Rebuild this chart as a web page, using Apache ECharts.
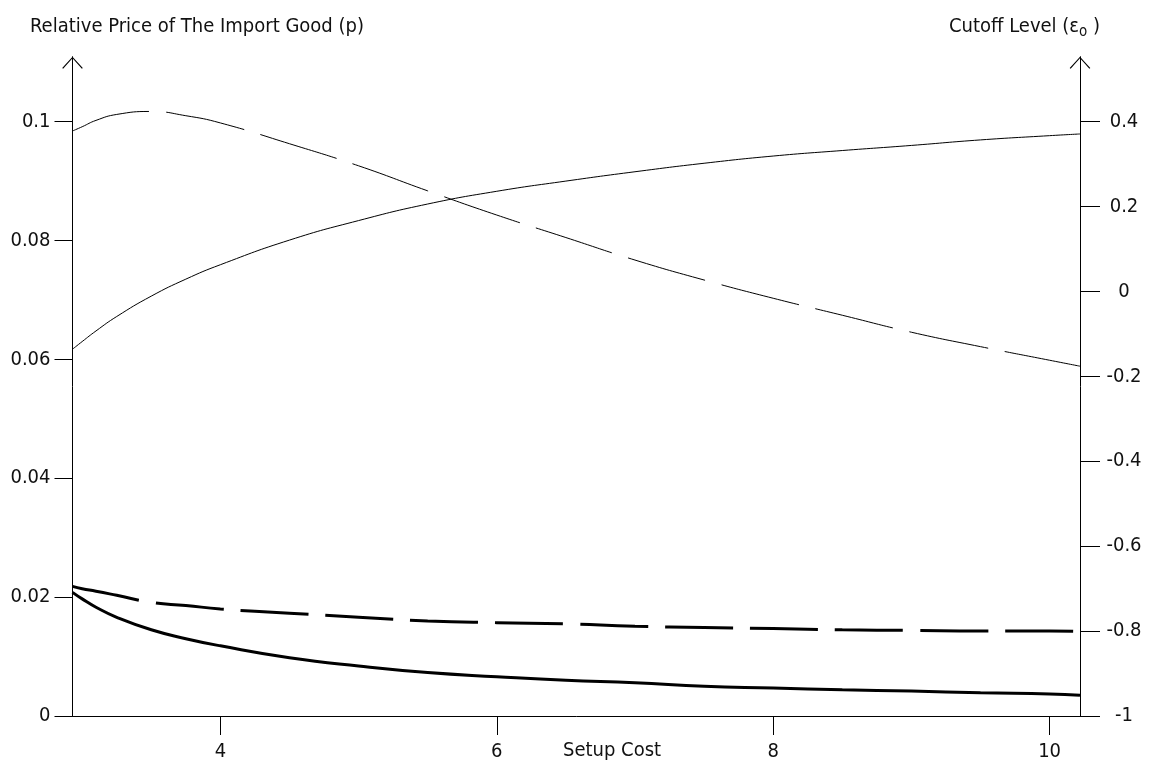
<!DOCTYPE html>
<html>
<head>
<meta charset="utf-8">
<script src="https://cdn.jsdelivr.net/npm/echarts@6/dist/echarts.min.js"></script>
<style>html,body{margin:0;padding:0;background:#fff;}#c{width:1153px;height:768px;}</style>
</head>
<body>
<div id="c"></div>
<script>
// Setup cost (x)
const setupCost = [2.93, 3.0, 3.1, 3.25, 3.5, 3.75, 4.0, 4.5, 5.0, 5.5, 6.0, 6.5, 7.0, 7.5, 8.0, 8.5, 9.0, 9.5, 10.0, 10.22];
// Cutoff level (right axis)
const cutoffDashed = [0.378, 0.388, 0.403, 0.417, 0.424, 0.414, 0.397, 0.348, 0.296, 0.237, 0.180, 0.127, 0.074, 0.027, -0.016, -0.056, -0.096, -0.130, -0.162, -0.176];
const cutoffSolid = [-0.136, -0.118, -0.093, -0.059, -0.011, 0.029, 0.063, 0.121, 0.167, 0.206, 0.236, 0.260, 0.282, 0.302, 0.319, 0.332, 0.344, 0.357, 0.367, 0.371];
// Relative price (left axis)
const priceDashed = [0.0218, 0.0214, 0.0210, 0.0203, 0.0191, 0.0186, 0.0180, 0.0173, 0.0166, 0.0160, 0.0157, 0.0155, 0.0151, 0.0149, 0.0147, 0.0145, 0.0144, 0.0143, 0.0143, 0.0142];
const priceSolid = [0.0208, 0.0197, 0.0183, 0.0166, 0.0145, 0.0130, 0.0118, 0.0098, 0.0084, 0.0073, 0.0066, 0.0060, 0.0056, 0.0050, 0.0047, 0.0044, 0.0042, 0.0039, 0.0037, 0.0035];
// Tick labels
const xTicks = [4, 6, 8, 10];
const leftTicks = [0, 0.02, 0.04, 0.06, 0.08, 0.1];
const rightTicks = [-1, -0.8, -0.6, -0.4, -0.2, 0, 0.2, 0.4];

const FONT = "'Liberation Sans Narrow', 'Arial Narrow', 'DejaVu Sans Condensed', sans-serif";
const TXT = '#111';
const arrow = 'path://M0,12 L11,0 L22,12 L21,12.8 L11,1.6 L1,12.8 Z';

function pairs(xs, ys) { return xs.map((x, i) => [x, ys[i]]); }

const chart = echarts.init(document.getElementById('c'), null, {renderer: 'canvas'});
chart.setOption({
  animation: false,
  backgroundColor: '#fff',
  textStyle: {fontFamily: FONT},
  title: [
    {text: 'Relative Price of The Import Good (p)', left: 25, top: 12,
     textStyle: {fontFamily: FONT, fontSize: 20, fontWeight: 'normal', color: TXT}},
    {text: '{a|Cutoff Level (ε}{s|o}{a| )}', left: 944, top: 8,
     textStyle: {fontFamily: FONT, fontSize: 20, fontWeight: 'normal', color: TXT,
       rich: {a: {fontFamily: FONT, fontSize: 20, color: TXT},
              s: {fontFamily: FONT, fontSize: 15, color: TXT, verticalAlign: 'bottom', padding: [12, 0, 0, 0]}}}},
    {text: 'Setup Cost', left: 558, top: 736,
     textStyle: {fontFamily: FONT, fontSize: 20, fontWeight: 'normal', color: TXT}}
  ],
  grid: {left: 72.5, right: 73, top: 56.7, bottom: 52, containLabel: false, outerBoundsMode: 'none'},
  xAxis: {
    type: 'value', min: 2.93, max: 10.22,
    axisLine: {lineStyle: {color: '#000', width: 1}},
    axisTick: {length: 19, lineStyle: {color: '#000'}, customValues: xTicks},
    axisLabel: {customValues: xTicks, margin: 26, fontFamily: FONT, fontSize: 20, color: TXT},
    splitLine: {show: false}
  },
  yAxis: [
    {
      type: 'value', position: 'left', min: 0, max: 0.1109,
      axisLine: {show: true, lineStyle: {color: '#000', width: 1}, symbol: ['none', arrow], symbolSize: [22, 12], symbolOffset: [0, -6]},
      axisTick: {show: true, length: 18, lineStyle: {color: '#000'}, customValues: leftTicks},
      axisLabel: {customValues: leftTicks, margin: 22, fontFamily: FONT, fontSize: 20, color: TXT},
      splitLine: {show: false}
    },
    {
      type: 'value', position: 'right', min: -1, max: 0.553,
      axisLine: {show: true, lineStyle: {color: '#000', width: 1}, symbol: ['none', arrow], symbolSize: [22, 12], symbolOffset: [0, -6]},
      axisTick: {show: true, length: 20, lineStyle: {color: '#000'}, customValues: rightTicks},
      axisLabel: {customValues: rightTicks, margin: 44, align: 'center', fontFamily: FONT, fontSize: 20, color: TXT},
      splitLine: {show: false}
    }
  ],
  series: [
    {type: 'line', yAxisIndex: 1, data: pairs(setupCost, cutoffDashed), smooth: true, showSymbol: false,
     lineStyle: {color: '#000', width: 1, type: [80, 17]}},
    {type: 'line', yAxisIndex: 1, data: pairs(setupCost, cutoffSolid), smooth: true, showSymbol: false,
     lineStyle: {color: '#000', width: 1}},
    {type: 'line', yAxisIndex: 0, data: pairs(setupCost, priceDashed), smooth: true, showSymbol: false,
     lineStyle: {color: '#000', width: 3, type: [68, 17]}},
    {type: 'line', yAxisIndex: 0, data: pairs(setupCost, priceSolid), smooth: true, showSymbol: false,
     lineStyle: {color: '#000', width: 3}}
  ]
});
</script>
</body>
</html>
